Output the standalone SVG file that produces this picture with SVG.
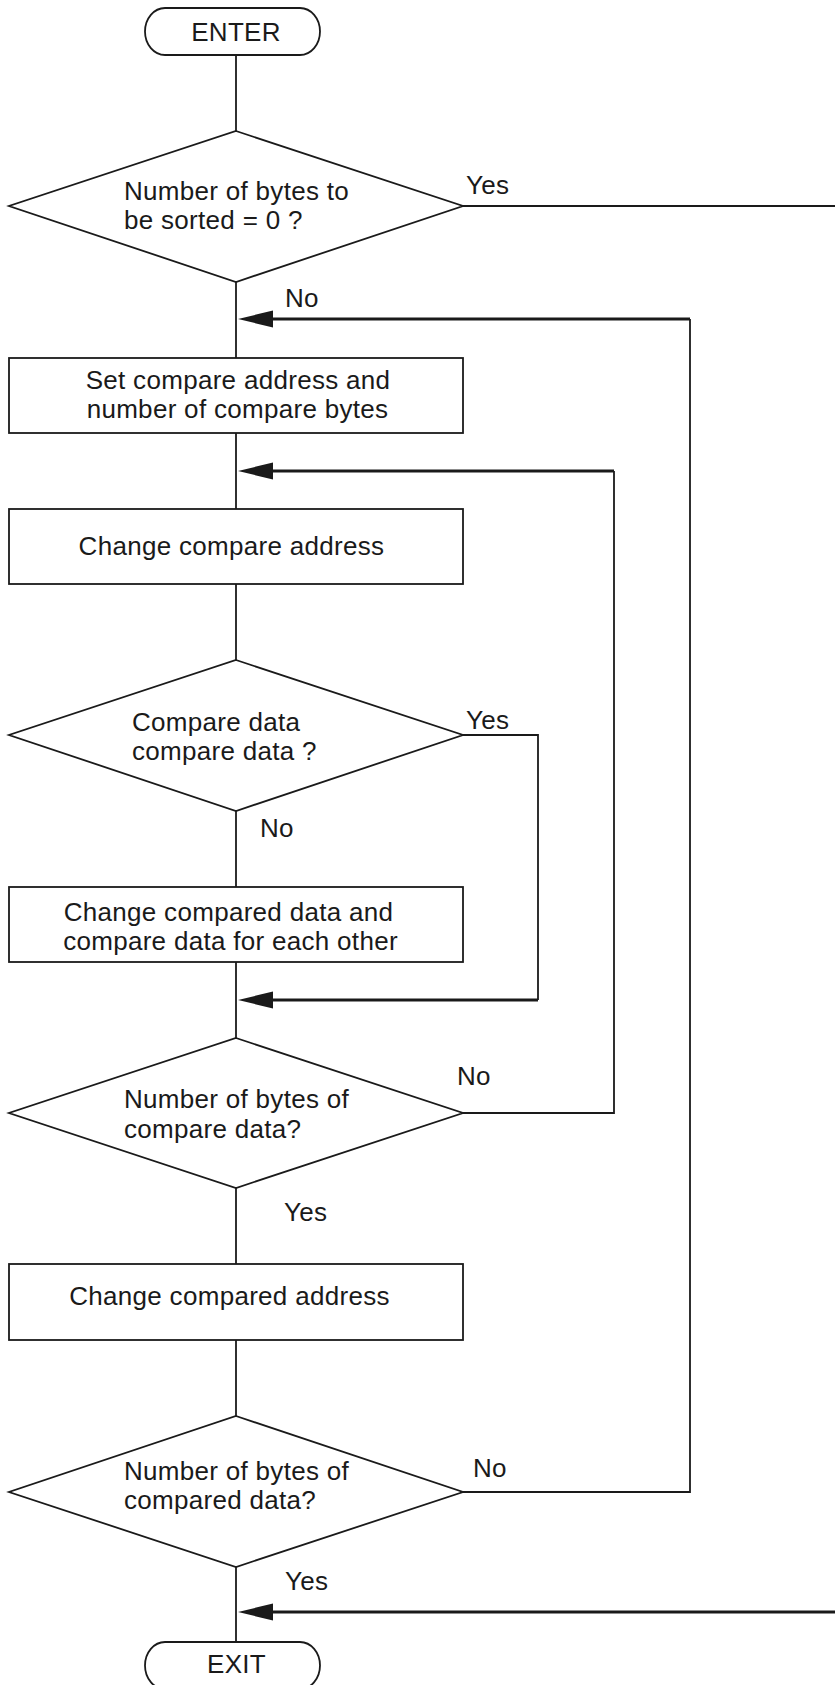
<svg xmlns="http://www.w3.org/2000/svg" width="835" height="1685" viewBox="0 0 835 1685">
  <style>
    .shape { fill: #ffffff; stroke: #1a1a1a; stroke-width: 1.8; }
    .line { fill: none; stroke: #1a1a1a; stroke-width: 1.8; }
    .back { fill: none; stroke: #1a1a1a; stroke-width: 3; }
    .head { fill: #1a1a1a; stroke: none; }
    text { font-family: "Liberation Sans", Arial, sans-serif; font-size: 26px; fill: #1a1a1a; letter-spacing: 0.3px; }
    .mid { text-anchor: middle; }
  </style>

  <rect width="835" height="1685" fill="#ffffff"/>

  <!-- connectors -->
  <g id="connectors">
    <!-- main vertical flow -->
    <line class="line" x1="236" y1="55" x2="236" y2="131"/>
    <line class="line" x1="236" y1="282" x2="236" y2="358"/>
    <line class="line" x1="236" y1="433" x2="236" y2="509"/>
    <line class="line" x1="236" y1="584" x2="236" y2="660"/>
    <line class="line" x1="236" y1="811" x2="236" y2="887"/>
    <line class="line" x1="236" y1="962" x2="236" y2="1038"/>
    <line class="line" x1="236" y1="1188" x2="236" y2="1264"/>
    <line class="line" x1="236" y1="1340" x2="236" y2="1416"/>
    <line class="line" x1="236" y1="1567" x2="236" y2="1642"/>

    <!-- Yes from first decision, leaves to the right -->
    <line class="line" x1="463" y1="206" x2="835" y2="206"/>

    <!-- Yes from "Compare data" decision, skips the exchange step -->
    <polyline class="line" points="463,735 538,735 538,1000"/>
    <line class="back" x1="538" y1="1000" x2="270" y2="1000"/>
    <polygon class="head" points="238,1000 273,991.5 273,1008.5"/>

    <!-- No from "compare data?" decision, loops back -->
    <polyline class="line" points="463,1113 614,1113 614,471"/>
    <line class="back" x1="614" y1="471" x2="270" y2="471"/>
    <polygon class="head" points="238,471 273,462.5 273,479.5"/>

    <!-- No from "compared data?" decision, loops back -->
    <polyline class="line" points="463,1492 690,1492 690,319"/>
    <line class="back" x1="690" y1="319" x2="270" y2="319"/>
    <polygon class="head" points="238,319 273,310.5 273,327.5"/>

    <!-- return into EXIT from the right -->
    <line class="back" x1="835" y1="1612" x2="270" y2="1612"/>
    <polygon class="head" points="238,1612 273,1603.5 273,1620.5"/>

    <!-- branch labels -->
    <text x="466" y="194">Yes</text>
    <text x="285" y="307">No</text>
    <text x="466" y="729">Yes</text>
    <text x="260" y="837">No</text>
    <text x="457" y="1085">No</text>
    <text x="284" y="1221">Yes</text>
    <text x="473" y="1477">No</text>
    <text x="285" y="1590">Yes</text>
  </g>

  <g id="enter">
    <rect class="shape" x="145" y="8" width="175" height="47" rx="20" ry="23.5"/>
    <text class="mid" x="236" y="41">ENTER</text>
  </g>

  <g id="check-count">
    <polygon class="shape" points="236,131 463,206 236,282 9,206"/>
    <text x="124" y="200">Number of bytes to</text>
    <text x="124" y="229">be sorted = 0 ?</text>
  </g>

  <g id="set-address">
    <rect class="shape" x="9" y="358" width="454" height="75"/>
    <text class="mid" x="238" y="389">Set compare address and</text>
    <text class="mid" x="237.5" y="418">number of compare bytes</text>
  </g>

  <g id="change-address">
    <rect class="shape" x="9" y="509" width="454" height="75"/>
    <text class="mid" x="231.5" y="555">Change compare address</text>
  </g>

  <g id="compare">
    <polygon class="shape" points="236,660 463,735 236,811 9,735"/>
    <text x="132" y="731">Compare data</text>
    <text x="132" y="760">compare data ?</text>
  </g>

  <g id="exchange">
    <rect class="shape" x="9" y="887" width="454" height="75"/>
    <text class="mid" x="228.5" y="921">Change compared data and</text>
    <text class="mid" x="230.5" y="950">compare data for each other</text>
  </g>

  <g id="check-compare">
    <polygon class="shape" points="236,1038 463,1113 236,1188 9,1113"/>
    <text x="124" y="1108">Number of bytes of</text>
    <text x="124" y="1138">compare data?</text>
  </g>

  <g id="change-compared">
    <rect class="shape" x="9" y="1264" width="454" height="76"/>
    <text class="mid" x="229.5" y="1305">Change compared address</text>
  </g>

  <g id="check-compared">
    <polygon class="shape" points="236,1416 463,1492 236,1567 9,1492"/>
    <text x="124" y="1480">Number of bytes of</text>
    <text x="124" y="1509">compared data?</text>
  </g>

  <g id="exit">
    <rect class="shape" x="145" y="1642" width="175" height="47" rx="20" ry="23.5"/>
    <text class="mid" x="236.5" y="1673">EXIT</text>
  </g>
</svg>
